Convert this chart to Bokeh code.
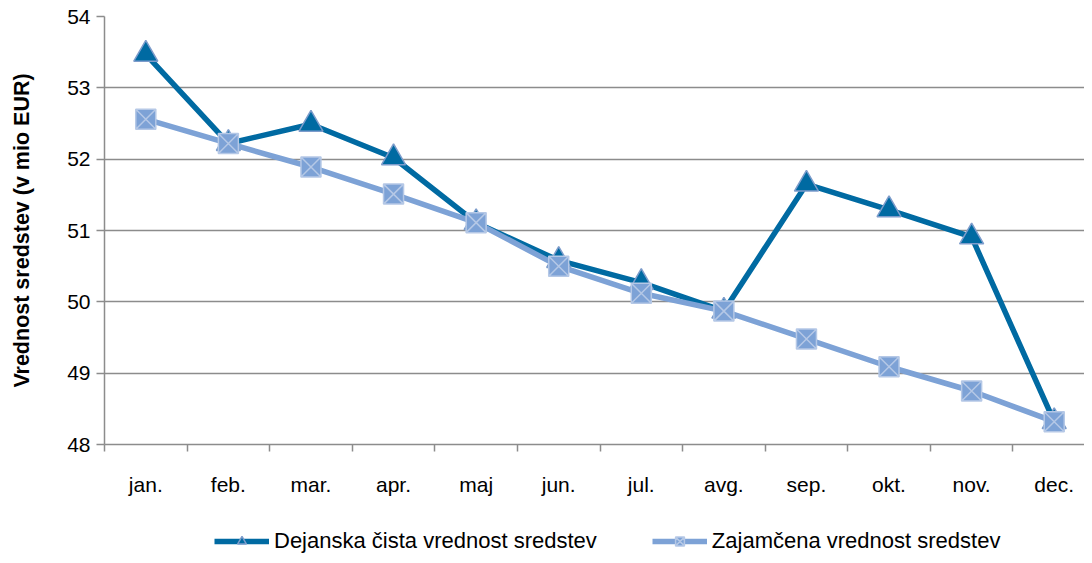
from bokeh.plotting import figure
from bokeh.models import FixedTicker, Legend, LegendItem, Range1d
from bokeh.layouts import column
from bokeh.embed import file_html
from bokeh.resources import INLINE

months = ["jan.", "feb.", "mar.", "apr.", "maj", "jun.", "jul.", "avg.", "sep.", "okt.", "nov.", "dec."]
dejanska = [53.47, 52.22, 52.49, 52.02, 51.11, 50.58, 50.27, 49.87, 51.65, 51.29, 50.91, 48.32]
zajamcena = [52.56, 52.22, 51.89, 51.51, 51.11, 50.50, 50.12, 49.87, 49.48, 49.09, 48.75, 48.32]
y_ticks = [48, 49, 50, 51, 52, 53, 54]
series_names = ["Dejanska čista vrednost sredstev", "Zajamčena vrednost sredstev"]

FONT = "Liberation Sans"
DARK = "#006AA2"
LIGHT = "#7DA2D6"
GRID = "#8C8C8C"
TRI_EDGE = "#7D9CCB"
SQ_EDGE = "#B5C8E6"

xs = [i + 0.5 for i in range(len(months))]

p = figure(frame_width=980, frame_height=428, output_backend="svg", toolbar_location=None,
           x_range=Range1d(0, 12 * 980 / 991), y_range=Range1d(48, 54),
           min_border_left=104, min_border_right=0, min_border_top=16, min_border_bottom=54)
p.outline_line_color = None
p.background_fill_color = "white"
p.border_fill_color = "white"

# axes
p.xaxis.ticker = FixedTicker(ticks=xs, minor_ticks=list(range(13)))
p.xaxis.major_label_overrides = {x: m for x, m in zip(xs, months)}
p.xaxis.major_tick_out = 0
p.xaxis.major_tick_in = 0
p.xaxis.minor_tick_out = 7
p.xaxis.minor_tick_in = 0
p.xaxis.minor_tick_line_color = GRID
p.xaxis.minor_tick_line_width = 1.5
p.xaxis.axis_line_color = GRID
p.xaxis.axis_line_width = 1.5
p.xaxis.major_label_text_font = FONT
p.xaxis.major_label_text_font_size = "21px"
p.xaxis.major_label_text_color = "black"
p.xaxis.major_label_standoff = 21

p.yaxis.ticker = FixedTicker(ticks=y_ticks)
p.yaxis.minor_tick_line_color = None
p.yaxis.major_tick_out = 8
p.yaxis.major_tick_in = 0
p.yaxis.major_tick_line_color = GRID
p.yaxis.major_tick_line_width = 1.5
p.yaxis.axis_line_color = GRID
p.yaxis.axis_line_width = 1.5
p.yaxis.major_label_text_font = FONT
p.yaxis.major_label_text_font_size = "21px"
p.yaxis.major_label_text_color = "black"
p.yaxis.major_label_standoff = 6
p.yaxis.axis_label = "Vrednost sredstev (v mio EUR)"
p.yaxis.axis_label_text_font = FONT
p.yaxis.axis_label_text_font_size = "21.5px"
p.yaxis.axis_label_text_font_style = "bold"
p.yaxis.axis_label_text_color = "black"
p.yaxis.axis_label_standoff = 30

p.xgrid.grid_line_color = None
p.ygrid.ticker = FixedTicker(ticks=y_ticks)
p.ygrid.grid_line_color = GRID
p.ygrid.grid_line_width = 1.5

# series
p.line(xs, dejanska, line_color=DARK, line_width=5.5)
p.scatter(xs, dejanska, marker="triangle", size=24, fill_color=DARK,
          line_color=TRI_EDGE, line_width=1.5)
p.line(xs, zajamcena, line_color=LIGHT, line_width=5.5)
p.scatter(xs, zajamcena, marker="square_x", size=20, fill_color=LIGHT,
          line_color=SQ_EDGE, line_width=1.5)

# legend strip (separate figure below the chart; its glyphs lie outside its visible range)
lf = figure(frame_width=1084, frame_height=57, output_backend="svg", toolbar_location=None,
            x_range=Range1d(100, 101), y_range=Range1d(100, 101),
            min_border_left=0, min_border_right=0, min_border_top=0, min_border_bottom=0)
lf.axis.visible = False
lf.grid.grid_line_color = None
lf.outline_line_color = None
la = lf.line(xs, dejanska, line_color=DARK, line_width=5.5)
lb = lf.scatter(xs, dejanska, marker="triangle", size=18, fill_color=DARK,
                line_color=TRI_EDGE, line_width=1.5)
lc = lf.line(xs, zajamcena, line_color=LIGHT, line_width=5.5)
ld = lf.scatter(xs, zajamcena, marker="square_x", size=16, fill_color=LIGHT,
                line_color=SQ_EDGE, line_width=1.5)
legend = Legend(items=[LegendItem(label=series_names[0], renderers=[la, lb]),
                       LegendItem(label=series_names[1], renderers=[lc, ld])],
                orientation="horizontal", location=(214, 1),
                glyph_width=55, glyph_height=22, label_standoff=5, spacing=55,
                padding=0, margin=0, border_line_color=None, background_fill_alpha=0,
                label_text_font=FONT, label_text_font_size="22px", label_text_color="black")
lf.add_layout(legend, "center")

layout = column(p, lf, spacing=0)
open("out.html", "w").write(file_html(layout, INLINE))
